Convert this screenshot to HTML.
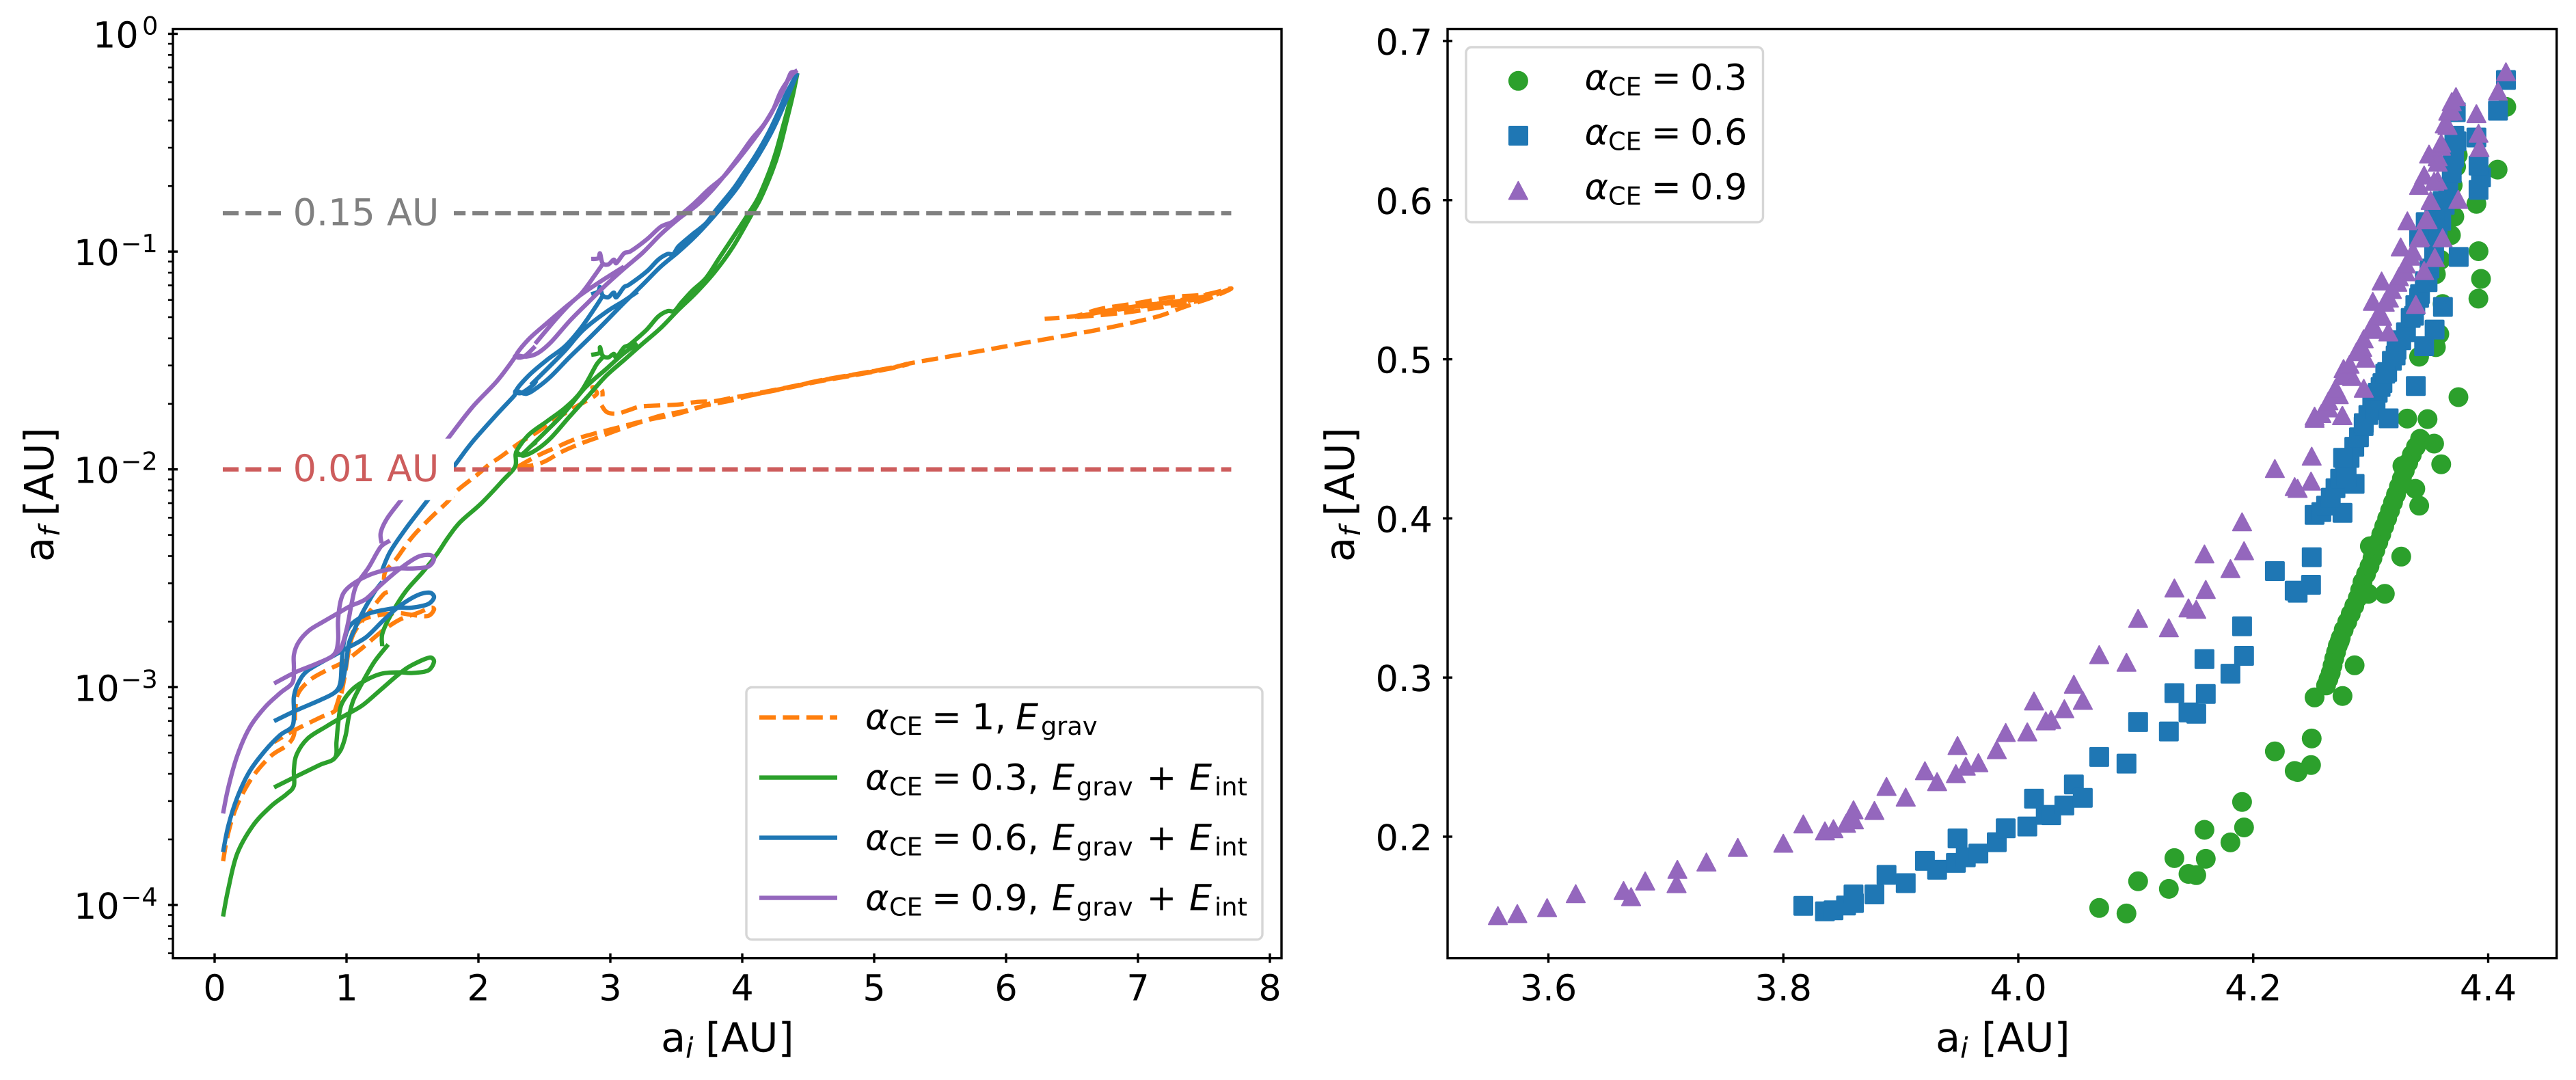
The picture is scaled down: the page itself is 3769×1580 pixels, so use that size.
<!DOCTYPE html>
<html lang="en">
<head>
<meta charset="utf-8">
<title>Final versus initial separation for common envelope evolution</title>
<style>
html,body{margin:0;padding:0;background:#fff;}
svg{display:block;}
text{font-family:"DejaVu Sans","Liberation Sans",sans-serif;fill:#000;text-rendering:geometricPrecision;}
.t{font-size:52.4px;}
.s{font-size:36.7px;}
.i{font-style:italic;}
.al{font-size:59px;}
.als{font-size:41.3px;font-style:italic;}
.ann{font-size:54px;}
</style>
</head>
<body>
<svg id="figure" xmlns="http://www.w3.org/2000/svg" width="3769" height="1580" viewBox="0 0 3769 1580">
  <rect x="0" y="0" width="3769" height="1580" fill="#ffffff"/>
  <g id="left-marks"></g>
  <g id="right-marks"></g>
  <g id="ticks"></g>
  <rect x="253" y="42.5" width="1622" height="1359.2" fill="none" stroke="#000" stroke-width="3.4"/>
  <rect x="2118" y="42.5" width="1622.7" height="1359.2" fill="none" stroke="#000" stroke-width="3.4"/>

  <text y="1538.5"><tspan class="al" x="967">a</tspan><tspan class="als" x="1003" dy="9">i</tspan><tspan class="al" x="1032" dy="-9">[AU]</tspan></text>
  <text y="1538.5"><tspan class="al" x="2832">a</tspan><tspan class="als" x="2868" dy="9">i</tspan><tspan class="al" x="2899" dy="-9">[AU]</tspan></text>
  <text transform="translate(78,822) rotate(-90)"><tspan class="al" x="0">a</tspan><tspan class="als" x="37" dy="9">f</tspan><tspan class="al" x="67" dy="-9">[AU]</tspan></text>
  <text transform="translate(1981,822) rotate(-90)"><tspan class="al" x="0">a</tspan><tspan class="als" x="37" dy="9">f</tspan><tspan class="al" x="67" dy="-9">[AU]</tspan></text>

  <g>
    <rect x="1092" y="1005.5" width="755" height="369" rx="8" ry="8" fill="#fff" fill-opacity="0.8" stroke="#d6d6d6" stroke-width="3.4"/>
    <line x1="1111" x2="1225" y1="1049.6" y2="1049.6" stroke="#ff7f0e" stroke-width="6.4" stroke-dasharray="24 10.4"/>
    <line x1="1111" x2="1225" y1="1137.6" y2="1137.6" stroke="#2ca02c" stroke-width="6.4"/>
    <line x1="1111" x2="1225" y1="1225.6" y2="1225.6" stroke="#1f77b4" stroke-width="6.4"/>
    <line x1="1111" x2="1225" y1="1313.6" y2="1313.6" stroke="#9467bd" stroke-width="6.4"/>
    <text y="1067"><tspan class="t i" x="1266">α</tspan><tspan class="s" x="1301" dy="8">CE</tspan><tspan class="t" x="1363" dy="-8">=</tspan><tspan class="t" x="1422">1,</tspan><tspan class="t i" x="1486">E</tspan><tspan class="s" x="1523" dy="8">grav</tspan></text>
    <text y="1155.3"><tspan class="t i" x="1266">α</tspan><tspan class="s" x="1301" dy="8">CE</tspan><tspan class="t" x="1363" dy="-8">=</tspan><tspan class="t" x="1420">0.3,</tspan><tspan class="t i" x="1539">E</tspan><tspan class="s" x="1575" dy="8">grav</tspan><tspan class="t" x="1677.5" dy="-8">+</tspan><tspan class="t i" x="1740">E</tspan><tspan class="s" x="1777" dy="8">int</tspan></text>
    <text y="1243.5"><tspan class="t i" x="1266">α</tspan><tspan class="s" x="1301" dy="8">CE</tspan><tspan class="t" x="1363" dy="-8">=</tspan><tspan class="t" x="1420">0.6,</tspan><tspan class="t i" x="1539">E</tspan><tspan class="s" x="1575" dy="8">grav</tspan><tspan class="t" x="1677.5" dy="-8">+</tspan><tspan class="t i" x="1740">E</tspan><tspan class="s" x="1777" dy="8">int</tspan></text>
    <text y="1331.7"><tspan class="t i" x="1266">α</tspan><tspan class="s" x="1301" dy="8">CE</tspan><tspan class="t" x="1363" dy="-8">=</tspan><tspan class="t" x="1420">0.9,</tspan><tspan class="t i" x="1539">E</tspan><tspan class="s" x="1575" dy="8">grav</tspan><tspan class="t" x="1677.5" dy="-8">+</tspan><tspan class="t i" x="1740">E</tspan><tspan class="s" x="1777" dy="8">int</tspan></text>
  </g>

  <g>
    <rect x="2145" y="69" width="434.5" height="256" rx="8" ry="8" fill="#fff" fill-opacity="0.8" stroke="#d6d6d6" stroke-width="3.4"/>
    <circle cx="2221.4" cy="118.3" r="14.5" fill="#2ca02c"/>
    <rect x="2207" y="184" width="29" height="29" rx="2" fill="#1f77b4"/>
    <polygon points="2221.4,265.8 2235,291.5 2207.8,291.5" fill="#9467bd" stroke="#9467bd" stroke-width="2" stroke-linejoin="round"/>
    <text y="131.7"><tspan class="t i" x="2318.5">α</tspan><tspan class="s" x="2353" dy="8">CE</tspan><tspan class="t" x="2416" dy="-8">=</tspan><tspan class="t" x="2473">0.3</tspan></text>
    <text y="211.7"><tspan class="t i" x="2318.5">α</tspan><tspan class="s" x="2353" dy="8">CE</tspan><tspan class="t" x="2416" dy="-8">=</tspan><tspan class="t" x="2473">0.6</tspan></text>
    <text y="291.7"><tspan class="t i" x="2318.5">α</tspan><tspan class="s" x="2353" dy="8">CE</tspan><tspan class="t" x="2416" dy="-8">=</tspan><tspan class="t" x="2473">0.9</tspan></text>
  </g>
</svg>
<script>
// ---------- Left panel data: [a_i in AU, log10(a_f in AU)], null = break in the line ----------
const orangeCurve = [
[.064,-3.799],[.104,-3.668],[.171,-3.541],[.288,-3.412],[.427,-3.316],[.543,-3.269],[.601,-3.220],[.611,-3.109],[.635,-3.027],[.728,-2.965],[.844,-2.924],[.982,-2.883],[1.119,-2.820],[1.259,-2.748],[1.399,-2.691],[1.537,-2.660],[1.642,-2.635],[1.663,-2.644],[1.617,-2.673],[1.492,-2.668],[1.399,-2.660],[1.259,-2.668],[1.119,-2.691],[1.052,-2.740],[1.016,-2.836],[.982,-2.965],[.948,-3.060],[.912,-3.109],[.798,-3.140],[.589,-3.203],[.451,-3.252],null,
[.912,-3.109],[.959,-3.012],[1.005,-2.867],[1.052,-2.756],[1.166,-2.660],[1.283,-2.572],[1.329,-2.560],null,
[1.283,-2.508],[1.295,-2.469],[1.376,-2.412],[1.492,-2.315],[1.630,-2.227],[1.767,-2.148],[1.838,-2.098],[2.0,-2.020],[2.078,-1.979],[2.171,-1.941],[2.311,-1.879],[2.449,-1.827],[2.585,-1.769],[2.741,-1.712],[2.896,-1.655],[2.864,-1.623],[2.933,-1.634],[2.941,-1.665],null,
[2.933,-1.706],[2.974,-1.737],[3.052,-1.744],[3.140,-1.728],[3.226,-1.712],[3.382,-1.706],[3.518,-1.702],[3.658,-1.690],[3.796,-1.686],[3.933,-1.670],[4.073,-1.655],[4.337,-1.624],[4.601,-1.590],[4.865,-1.562],[5.130,-1.533],[5.290,-1.511],[5.554,-1.483],[5.870,-1.449],[6.187,-1.414],[6.451,-1.386],[6.715,-1.357],[6.979,-1.323],[7.166,-1.295],[7.324,-1.260],[7.456,-1.232],[7.562,-1.210],[7.707,-1.169],[7.508,-1.197],[7.244,-1.210],[6.979,-1.238],[6.715,-1.263],[6.531,-1.295],[6.293,-1.309],null,
[2.294,-1.989],[2.449,-1.937],[2.585,-1.900],[2.725,-1.863],[2.864,-1.838],[2.967,-1.822],[3.071,-1.806],[3.207,-1.784],[3.347,-1.765],[3.485,-1.749],[3.658,-1.718],[3.796,-1.690],[3.933,-1.675],[4.073,-1.659],[4.337,-1.627],[4.601,-1.594],[4.865,-1.566],[5.13,-1.536],[5.26,-1.517],null,
[2.294,-1.994],[2.482,-1.969],[2.622,-1.922],[2.760,-1.885],[2.933,-1.847],[3.071,-1.816],[3.244,-1.780],[3.382,-1.753],[3.554,-1.733],[3.725,-1.706],[3.900,-1.686],[4.073,-1.659],[4.337,-1.625],[4.601,-1.592],[4.865,-1.564],[5.13,-1.535],[5.25,-1.515],null,
[4.02,-1.664],[4.337,-1.626],[4.601,-1.592],[4.865,-1.564],[5.13,-1.535],[5.21,-1.522],null,
[4.11,-1.654],[4.337,-1.625],[4.601,-1.591],[4.865,-1.563],[5.13,-1.534],[5.19,-1.525],null,
[7.707,-1.169],[7.456,-1.226],[7.192,-1.254],[6.876,-1.282],[6.531,-1.301],null,
[7.620,-1.185],[7.350,-1.220],[7.060,-1.246],[6.800,-1.268],[6.600,-1.292],null,
[7.560,-1.200],[7.300,-1.228],[7.000,-1.250],[6.760,-1.272],[6.560,-1.297],null,
[7.500,-1.215],[7.250,-1.236],[6.950,-1.258],[6.700,-1.280],[6.520,-1.300]
];

const greenCurve = [
[.064,-4.053],[.104,-3.925],[.171,-3.765],[.290,-3.636],[.425,-3.548],[.544,-3.492],[.601,-3.453],[.601,-3.380],[.622,-3.309],[.705,-3.236],[.845,-3.181],[.982,-3.132],[1.119,-3.084],[1.259,-3.012],[1.399,-2.939],[1.492,-2.900],[1.630,-2.864],[1.663,-2.883],[1.617,-2.924],[1.492,-2.935],[1.399,-2.932],[1.259,-2.939],[1.119,-2.977],[1.028,-3.020],[.959,-3.084],[.936,-3.172],[.924,-3.252],[.912,-3.325],[.798,-3.357],[.611,-3.412],[.451,-3.460],null,
[.912,-3.325],[.959,-3.285],[.994,-3.220],[1.016,-3.140],[1.052,-3.060],[1.119,-2.980],[1.212,-2.883],[1.316,-2.804],null,
[1.271,-2.812],[1.271,-2.756],[1.329,-2.676],[1.445,-2.563],[1.583,-2.468],[1.688,-2.387],[1.767,-2.315],[1.860,-2.243],[2.023,-2.155],[2.185,-2.051],[2.278,-1.987],[2.285,-1.926],[2.345,-1.937],[2.449,-1.906],[2.553,-1.853],[2.689,-1.759],[2.829,-1.665],[2.967,-1.571],[3.104,-1.498],[3.244,-1.423],[3.382,-1.351],[3.518,-1.266],[3.658,-1.184],[3.796,-1.090],[3.933,-.975],[4.073,-.827],[4.140,-.755],[4.228,-.629],[4.280,-.535],[4.332,-.410],[4.383,-.284],[4.418,-.180],null,
[4.418,-.180],[4.373,-.284],[4.316,-.410],[4.259,-.535],[4.207,-.629],[4.124,-.749],[4.052,-.821],[3.948,-.918],[3.824,-1.031],[3.725,-1.121],[3.622,-1.179],[3.537,-1.235],[3.485,-1.273],[3.434,-1.273],[3.363,-1.298],[3.278,-1.357],[3.192,-1.404],[3.140,-1.430],[3.104,-1.439],[3.045,-1.486],[3.026,-1.470],[2.984,-1.486],[2.941,-1.477],[2.922,-1.439],[2.916,-1.466],[2.855,-1.474],null,
[2.941,-1.486],[2.896,-1.518],[2.777,-1.643],[2.656,-1.718],[2.518,-1.780],[2.378,-1.843],[2.285,-1.922],[2.326,-1.932],[2.397,-1.894],[2.440,-1.874],null,
[2.397,-1.894],[2.518,-1.822],[2.656,-1.737],[2.812,-1.623],[2.967,-1.540],[3.104,-1.466],[3.207,-1.423]
];

const blueCurve = [
[.064,-3.757],[.104,-3.636],[.171,-3.508],[.264,-3.388],[.381,-3.293],[.497,-3.220],[.589,-3.180],[.601,-3.109],[.601,-3.043],[.635,-2.980],[.705,-2.924],[.912,-2.852],[1.005,-2.820],[1.145,-2.772],[1.283,-2.691],[1.399,-2.629],[1.537,-2.578],[1.630,-2.566],[1.663,-2.588],[1.617,-2.619],[1.492,-2.635],[1.399,-2.635],[1.259,-2.648],[1.145,-2.668],[1.028,-2.717],[.982,-2.789],[.964,-2.883],[.953,-2.980],[.912,-3.024],[.798,-3.060],[.611,-3.109],[.451,-3.156],null,
[.912,-3.024],[.959,-2.996],[.995,-2.900],[1.016,-2.804],[1.057,-2.740],[1.119,-2.660],[1.212,-2.563],[1.271,-2.516],null,
[1.267,-2.468],[1.329,-2.380],[1.445,-2.276],[1.606,-2.148],[1.813,-1.987],[1.953,-1.875],[2.140,-1.747],[2.275,-1.659],[2.285,-1.639],[2.363,-1.653],[2.449,-1.623],[2.553,-1.571],[2.689,-1.486],[2.829,-1.404],[2.967,-1.320],[3.104,-1.235],[3.244,-1.153],[3.382,-1.069],[3.518,-1.000],[3.658,-.921],[3.813,-.818],[3.953,-.714],[4.036,-.639],[4.124,-.557],[4.212,-.463],[4.280,-.378],[4.347,-.284],[4.418,-.180],null,
[4.418,-.180],[4.332,-.278],[4.264,-.372],[4.197,-.457],[4.109,-.551],[4.021,-.632],[3.933,-.711],[3.798,-.811],[3.725,-.870],[3.622,-.921],[3.518,-.975],[3.477,-1.011],[3.434,-1.011],[3.363,-1.037],[3.278,-1.090],[3.140,-1.153],[3.104,-1.163],[3.045,-1.210],[3.026,-1.188],[2.984,-1.210],[2.941,-1.200],[2.922,-1.163],[2.907,-1.184],[2.855,-1.196],null,
[2.941,-1.204],[2.896,-1.247],[2.777,-1.351],[2.656,-1.435],[2.518,-1.498],[2.378,-1.571],[2.285,-1.639],[2.326,-1.649],[2.415,-1.612],[2.440,-1.592],null,
[2.397,-1.612],[2.518,-1.540],[2.656,-1.455],[2.793,-1.361],[2.967,-1.278],[3.104,-1.226],[3.207,-1.184]
];

const purpleCurve = [
[.064,-3.580],[.104,-3.460],[.171,-3.316],[.264,-3.187],[.381,-3.093],[.497,-3.027],[.589,-2.980],[.601,-2.916],[.601,-2.852],[.635,-2.795],[.715,-2.740],[.819,-2.701],[.936,-2.660],[1.028,-2.628],[1.145,-2.596],[1.259,-2.531],[1.399,-2.459],[1.537,-2.403],[1.630,-2.393],[1.663,-2.412],[1.617,-2.447],[1.492,-2.455],[1.376,-2.455],[1.237,-2.471],[1.119,-2.500],[1.005,-2.547],[.959,-2.596],[.936,-2.691],[.936,-2.789],[.902,-2.852],[.774,-2.892],[.611,-2.932],[.451,-2.983],null,
[.902,-2.852],[.959,-2.820],[1.005,-2.723],[1.040,-2.612],[1.075,-2.531],[1.166,-2.452],[1.259,-2.356],[1.329,-2.327],null,
[1.267,-2.340],[1.259,-2.292],[1.306,-2.227],[1.409,-2.144],[1.767,-1.860],[1.953,-1.715],[2.140,-1.595],[2.269,-1.492],[2.285,-1.477],[2.363,-1.482],[2.449,-1.466],[2.553,-1.414],[2.689,-1.320],[2.829,-1.235],[2.967,-1.153],[3.104,-1.078],[3.244,-1.006],[3.382,-.921],[3.518,-.849],[3.658,-.786],[3.777,-.714],[3.881,-.639],[3.984,-.557],[4.073,-.482],[4.161,-.419],[4.244,-.337],[4.316,-.253],[4.368,-.180],[4.399,-.174],[4.418,-.168],null,
[4.418,-.168],[4.383,-.184],[4.295,-.262],[4.228,-.356],[4.140,-.441],[4.036,-.526],[3.953,-.589],[3.850,-.661],[3.746,-.714],[3.622,-.786],[3.518,-.839],[3.466,-.865],[3.382,-.886],[3.278,-.943],[3.149,-1.000],[3.104,-1.008],[3.045,-1.053],[3.026,-1.037],[2.984,-1.059],[2.941,-1.053],[2.922,-1.008],[2.907,-1.031],[2.855,-1.034],null,
[2.941,-1.058],[2.881,-1.110],[2.777,-1.194],[2.656,-1.257],[2.518,-1.329],[2.378,-1.404],[2.285,-1.477],[2.345,-1.482],[2.430,-1.435],null,
[2.430,-1.423],[2.605,-1.298],[2.741,-1.215],[2.916,-1.141],[3.104,-1.069]
];

const referenceAi = [0.062, 7.707];
const referenceLogAf = [-0.824, -2];
const referenceLabels = ["0.15 AU", "0.01 AU"];

const leftXTicks = [0, 1, 2, 3, 4, 5, 6, 7, 8];
const leftYTickExponents = [0, -1, -2, -3, -4];
const rightXTicks = ["3.6", "3.8", "4.0", "4.2", "4.4"];
const rightYTicks = ["0.2", "0.3", "0.4", "0.5", "0.6", "0.7"];

// ---------- Right panel data: [a_i in AU, a_f in AU] ----------
const circlePoints = [
[4.0689,.1552],[4.0921,.1517],[4.1020,.1720],[4.1282,.1672],[4.1329,.1865],[4.1449,.1766],[4.1515,.1758],[4.1585,.2043],[4.1596,.1861],[4.1806,.1964],[4.1905,.2218],[4.1922,.2058],[4.2184,.2536],[4.2353,.2413],[4.2378,.2406],[4.2498,.2617],[4.2492,.2450],[4.2522,.2875],[4.2760,.2884],
[4.262,.295],[4.264,.299],[4.266,.303],[4.2675,.3075],[4.269,.312],[4.2705,.316],[4.272,.32],[4.2745,.325],[4.277,.33],[4.28,.335],[4.283,.34],[4.286,.345],[4.289,.35],[4.291,.355],[4.293,.36],[4.296,.365],[4.299,.37],[4.3015,.375],[4.304,.38],[4.3065,.385],[4.309,.39],[4.3115,.395],[4.314,.40],[4.3165,.405],[4.319,.41],[4.3215,.415],[4.324,.42],[4.3265,.425],[4.329,.43],[4.332,.435],[4.335,.44],[4.3385,.445],[4.342,.45],
[4.2737,.3230],[4.2863,.3077],[4.3427,.4495],[4.354,.447],[4.36,.434],[4.338,.4186],[4.3413,.408],[4.327,.433],[4.312,.3526],[4.298,.3526],[4.326,.376],[4.2993,.3825],
[4.3311,.4627],[4.3484,.4624],[4.3412,.5016],[4.3555,.5076],[4.3584,.5158],[4.3596,.5625],[4.3555,.5535],[4.3612,.5347],[4.3747,.4762],[4.3917,.5381],[4.3939,.5505],[4.3918,.5679],[4.39,.5977],[4.3698,.6094],[4.3741,.6283],[4.3727,.6210],[4.3712,.5896],[4.3683,.578],[4.408,.6192],[4.4154,.6586]
];

const squarePoints = [
[3.8170,.1565],[3.8354,.1531],[3.8427,.1537],[3.8534,.1567],[3.8597,.1637],[3.8601,.1583],[3.8775,.1637],[3.8878,.1760],[3.9042,.1708],[3.9205,.1848],[3.9309,.1792],[3.9469,.1835],[3.9553,.1870],[3.9660,.1894],[3.9483,.1989],[3.9817,.1965],[3.9893,.2053],[4.0077,.2064],[4.0134,.2239],[4.0234,.2137],
[4.028,.2135],[4.0392,.2196],[4.0473,.2328],[4.0549,.2244],[4.0689,.2501],[4.0921,.2459],[4.1020,.2720],[4.1282,.2661],[4.1329,.2902],[4.1449,.2781],[4.1515,.2772],[4.1585,.3116],[4.1596,.2897],[4.1806,.3024],[4.1905,.3322],[4.1922,.3136],[4.2184,.3669],[4.2353,.3546],[4.2378,.3533],[4.2498,.3756],[4.2492,.3583],[4.2522,.4022],[4.2760,.4035],
[4.258,.404],[4.262,.408],[4.266,.413],[4.27,.419],[4.274,.425],[4.278,.432],[4.282,.438],[4.286,.445],[4.29,.451],[4.294,.458],[4.298,.465],[4.302,.472],[4.306,.479],[4.31,.485],[4.314,.492],[4.318,.499],[4.322,.506],[4.326,.512],[4.33,.517],[4.334,.526],[4.338,.534],[4.342,.541],[4.346,.549],[4.35,.557],[4.354,.567],[4.357,.577],[4.36,.587],[4.363,.597],[4.366,.607],[4.369,.617],[4.371,.627],[4.373,.637],
[4.2765,.4381],[4.2863,.4217],[4.2795,.4261],[4.2941,.4599],[4.3013,.4745],[4.3084,.4826],[4.3041,.4680],[4.3153,.4629],[4.3124,.4910],[4.3212,.5024],[4.3369,.5273],[4.3412,.5386],[4.3484,.5485],[4.3541,.5879],[4.3612,.5995],[4.3468,.5862],[4.3412,.5765],[4.3698,.6257],[4.3724,.6553],[4.3712,.6405],
[4.3384,.4832],[4.3455,.5082],[4.3544,.5187],[4.3615,.5329],[4.3749,.5643],[4.3918,.6065],[4.3939,.6143],[4.3918,.6217],[4.3900,.6394],[4.4083,.6562],[4.4151,.6755]
];

const trianglePoints = [
[3.557,.1505],[3.5735,.1518],[3.5989,.1555],[3.6233,.1643],[3.664,.1663],[3.6704,.1624],[3.6824,.1723],[3.7098,.1796],[3.7091,.1706],[3.7345,.1842],[3.7612,.1934],[3.8,.1960],[3.8170,.2081],[3.8354,.2038],[3.8427,.2051],[3.8534,.2085],[3.8597,.2170],[3.8601,.2107],[3.8775,.2166],[3.8878,.2317],[3.9042,.2250],[3.9205,.2416],[3.9309,.2347],[3.9469,.2397],[3.9553,.2444],[3.9660,.2466],[3.9483,.2574],[3.9817,.2548],[3.9893,.2656],[4.0077,.2660],[4.0134,.2854],[4.0234,.2729],
[4.028,.2737],[4.0392,.2805],[4.0473,.2959],[4.0549,.2858],[4.0689,.3145],[4.0921,.3097],[4.1020,.3373],[4.1282,.3314],[4.1329,.3564],[4.1449,.3439],[4.1515,.3430],[4.1585,.3778],[4.1596,.3555],[4.1806,.3686],[4.1905,.3980],[4.1922,.3798],[4.2184,.4315],[4.2353,.4201],[4.2378,.4190],[4.2498,.4392],[4.2492,.4236],[4.2522,.4644],[4.2760,.4648],
[4.2522,.4630],[4.2642,.4696],[4.2756,.4647],[4.2728,.4779],[4.2941,.4819],[4.2842,.4893],[4.2769,.4943],[4.2957,.5008],[4.2928,.5076],[4.3041,.5189],[4.3150,.5173],[4.3098,.5271],[4.3384,.5346],[4.3018,.5365],[4.3155,.5386],[4.3093,.5493],[4.3227,.5485],[4.3298,.5551],[4.3339,.5649],[4.3455,.5559],[4.3546,.5641],[4.3255,.5707],[4.3412,.5765],[4.3612,.5765],[4.3484,.5879],[4.3312,.5871],[4.3746,.6006],[4.3570,.6127],[4.3412,.6094],[4.3455,.6159],[4.3497,.6291],[4.3570,.6274],[4.3598,.6340],[4.3654,.6471],[4.3698,.6562],[4.3726,.6652],[4.3926,.6332],[4.3918,.6422],[4.3900,.6545],[4.4083,.6686],[4.4151,.6808],
[4.258,.466],[4.264,.474],[4.27,.482],[4.276,.49],[4.282,.497],[4.288,.505],[4.294,.513],[4.30,.52],[4.306,.528],[4.312,.536],[4.318,.544],[4.324,.552],[4.33,.56],[4.336,.568],[4.342,.577],[4.347,.588],[4.351,.60],[4.354,.612],[4.357,.624],[4.36,.636],[4.363,.648],[4.366,.656],[4.369,.662]
];

// ---------- Axis functions ----------
function xLeft(a) { return 314 + 193 * a; }
function yLeft(logAf) { return 49.5 - 318.6 * logAf; }
function xRight(a) { return 2265.5 + 1718.75 * (a - 3.6); }
function yRight(af) { return 60 + 2328 * (0.7 - af); }

const SVGNS = "http://www.w3.org/2000/svg";
function make(tag, attrs, parent) {
  const node = document.createElementNS(SVGNS, tag);
  for (const key in attrs) node.setAttribute(key, attrs[key]);
  parent.appendChild(node);
  return node;
}
// Smooth each unbroken run through its data points (clamped Catmull-Rom).
function clampTangent(tx, ty, len) {
  const m = Math.hypot(tx, ty);
  const limit = len / 2.5;
  if (m > limit && m > 0) return [tx * limit / m, ty * limit / m];
  return [tx, ty];
}
function runPath(run) {
  const pts = run.map(function (p) { return [xLeft(p[0]), yLeft(p[1])]; });
  let d = "M" + pts[0][0].toFixed(1) + " " + pts[0][1].toFixed(1);
  for (let i = 0; i < pts.length - 1; i++) {
    const p0 = pts[Math.max(i - 1, 0)];
    const p1 = pts[i];
    const p2 = pts[i + 1];
    const p3 = pts[Math.min(i + 2, pts.length - 1)];
    const len = Math.hypot(p2[0] - p1[0], p2[1] - p1[1]);
    const a = clampTangent((p2[0] - p0[0]) / 6, (p2[1] - p0[1]) / 6, len);
    const b = clampTangent((p3[0] - p1[0]) / 6, (p3[1] - p1[1]) / 6, len);
    d += "C" + (p1[0] + a[0]).toFixed(1) + " " + (p1[1] + a[1]).toFixed(1) + " " +
         (p2[0] - b[0]).toFixed(1) + " " + (p2[1] - b[1]).toFixed(1) + " " +
         p2[0].toFixed(1) + " " + p2[1].toFixed(1);
  }
  return d;
}
function curvePath(points) {
  let d = "";
  let run = [];
  for (const p of points) {
    if (!p) { if (run.length) d += runPath(run); run = []; continue; }
    run.push(p);
  }
  if (run.length) d += runPath(run);
  return d;
}

const leftMarks = document.getElementById("left-marks");
const rightMarks = document.getElementById("right-marks");
const ticks = document.getElementById("ticks");

// ---------- Left panel curves ----------
let el = make("path", {d: curvePath(orangeCurve), fill: "none", stroke: "#ff7f0e", "stroke-width": 6.3, "stroke-dasharray": "24 10.4", "stroke-linejoin": "round"}, leftMarks);


el = make("path", {d: curvePath(greenCurve), fill: "none", stroke: "#2ca02c", "stroke-width": 6.3, "stroke-linejoin": "round"}, leftMarks);


el = make("path", {d: curvePath(blueCurve), fill: "none", stroke: "#1f77b4", "stroke-width": 6.3, "stroke-linejoin": "round"}, leftMarks);


el = make("path", {d: curvePath(purpleCurve), fill: "none", stroke: "#9467bd", "stroke-width": 6.3, "stroke-linejoin": "round"}, leftMarks);



// ---------- Reference lines with boxed annotations ----------
const referenceColors = ["#808080", "#cd5c5c"];
referenceLogAf.forEach(function (value, i) {
  const y = yLeft(value);
  const line = make("line", {x1: xLeft(referenceAi[0]), x2: xLeft(referenceAi[1]), y1: y, y2: y, stroke: referenceColors[i], "stroke-width": 6.3, "stroke-dasharray": "23.2 10"}, leftMarks);
  
  
  const box = make("rect", {x: 411, y: y - 45, width: 253, height: 90, fill: "#ffffff"}, leftMarks);
  
  
  const label = make("text", {x: 428.6, y: y + 17.5, class: "ann", style: "fill:" + referenceColors[i]}, leftMarks);
  label.textContent = referenceLabels[i];
  
  
});

// ---------- Right panel scatter ----------
circlePoints.forEach(function (p) {
  const m = make("circle", {cx: xRight(p[0]).toFixed(1), cy: yRight(p[1]).toFixed(1), r: 14.5, fill: "#2ca02c"}, rightMarks);
  
  
});
squarePoints.forEach(function (p) {
  const m = make("rect", {x: (xRight(p[0]) - 14.5).toFixed(1), y: (yRight(p[1]) - 14.5).toFixed(1), width: 29, height: 29, rx: 2, fill: "#1f77b4"}, rightMarks);
  
  
});
trianglePoints.forEach(function (p) {
  const cx = xRight(p[0]);
  const cy = yRight(p[1]);
  const pts = cx.toFixed(1) + "," + (cy - 12.5).toFixed(1) + " " + (cx + 13.6).toFixed(1) + "," + (cy + 13.2).toFixed(1) + " " + (cx - 13.6).toFixed(1) + "," + (cy + 13.2).toFixed(1);
  const m = make("polygon", {points: pts, fill: "#9467bd", stroke: "#9467bd", "stroke-width": 2, "stroke-linejoin": "round"}, rightMarks);
  
  
});

// ---------- Ticks and tick labels ----------
const AXIS_BOTTOM = 1401.7;
const TICK_HALF = 7;
leftXTicks.forEach(function (v) {
  const x = xLeft(v);
  const t = make("line", {x1: x, x2: x, y1: AXIS_BOTTOM - TICK_HALF, y2: AXIS_BOTTOM + TICK_HALF, stroke: "#000", "stroke-width": 3.4}, ticks);
  
  
  const l = make("text", {x: x, y: 1463.3, class: "t", "text-anchor": "middle"}, ticks);
  l.textContent = String(v);
  
  
});
rightXTicks.forEach(function (v) {
  const x = xRight(parseFloat(v));
  const t = make("line", {x1: x, x2: x, y1: AXIS_BOTTOM - TICK_HALF, y2: AXIS_BOTTOM + TICK_HALF, stroke: "#000", "stroke-width": 3.4}, ticks);
  
  
  const l = make("text", {x: x, y: 1463.3, class: "t", "text-anchor": "middle"}, ticks);
  l.textContent = v;
  
  
});
rightYTicks.forEach(function (v) {
  const y = yRight(parseFloat(v));
  const t = make("line", {x1: 2118 - TICK_HALF, x2: 2118 + TICK_HALF, y1: y, y2: y, stroke: "#000", "stroke-width": 3.4}, ticks);
  
  
  const l = make("text", {x: 2096, y: y + 20, class: "t", "text-anchor": "end"}, ticks);
  l.textContent = v;
  
  
});
leftYTickExponents.forEach(function (exp) {
  const y = yLeft(exp);
  const t = make("line", {x1: 253 - TICK_HALF, x2: 253 + TICK_HALF, y1: y, y2: y, stroke: "#000", "stroke-width": 3.4}, ticks);
  
  
  const base = make("text", {x: exp === 0 ? 136 : 108, y: y + 20, class: "t"}, ticks);
  base.textContent = "10";
  
  
  const sup = make("text", {x: exp === 0 ? 208 : 176.6, y: y + 1, class: "s"}, ticks);
  sup.textContent = exp === 0 ? "0" : "\u2212" + Math.abs(exp);
  
  
  [-1, 0].forEach(function (shift) {
    [2, 3, 4, 5, 6, 7, 8, 9].forEach(function (m) {
      const my = yLeft(exp + shift + Math.log10(m));
      if (my < 42 || my > 1402 || (shift === 0 && exp !== 0)) return;
      const mt = make("line", {x1: 246, x2: 253, y1: my, y2: my, stroke: "#000", "stroke-width": 2.6}, ticks);
      
      
    });
  });
});
</script>
</body>
</html>
